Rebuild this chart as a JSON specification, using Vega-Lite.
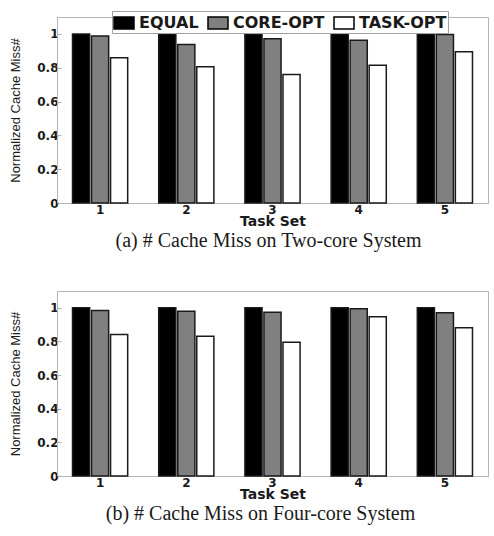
{
  "$schema": "https://vega.github.io/schema/vega-lite/v6.json",
  "padding": {"left": 9, "top": 10, "right": 0, "bottom": 0},
  "background": "white",
  "config": {
    "view": {"stroke": "#b5b5b5", "strokeWidth": 1},
    "axis": {
      "grid": false,
      "domainColor": "#b5b5b5",
      "tickColor": "#b5b5b5",
      "labelFont": "DejaVu Sans",
      "labelFontWeight": "bold",
      "labelFontSize": 12,
      "labelColor": "#1a1a1a",
      "titleColor": "#1a1a1a"
    },
    "legend": {
      "labelFont": "DejaVu Sans",
      "labelFontWeight": "bold",
      "labelFontSize": 16,
      "labelColor": "#1a1a1a",
      "strokeColor": "#a0a0a0",
      "fillColor": "white",
      "padding": 1,
      "columnPadding": 6,
      "labelOffset": 4,
      "symbolType": "M-1,-0.6H1V0.6H-1Z",
      "symbolSize": 400,
      "symbolStrokeColor": "#000000",
      "symbolStrokeWidth": 1.5,
      "symbolOpacity": 1,
      "direction": "horizontal",
      "orient": "none",
      "title": null
    },
    "title": {"font": "Liberation Serif", "fontSize": 20, "fontWeight": "normal", "color": "#1a1a1a"}
  },
  "datasets": {
    "cache": [
      {"system": "Two-core", "set": "1", "policy": "EQUAL", "value": 1.0},
      {"system": "Two-core", "set": "1", "policy": "CORE-OPT", "value": 0.987},
      {"system": "Two-core", "set": "1", "policy": "TASK-OPT", "value": 0.859},
      {"system": "Two-core", "set": "2", "policy": "EQUAL", "value": 1.0},
      {"system": "Two-core", "set": "2", "policy": "CORE-OPT", "value": 0.938},
      {"system": "Two-core", "set": "2", "policy": "TASK-OPT", "value": 0.806},
      {"system": "Two-core", "set": "3", "policy": "EQUAL", "value": 1.0},
      {"system": "Two-core", "set": "3", "policy": "CORE-OPT", "value": 0.972},
      {"system": "Two-core", "set": "3", "policy": "TASK-OPT", "value": 0.760},
      {"system": "Two-core", "set": "4", "policy": "EQUAL", "value": 1.0},
      {"system": "Two-core", "set": "4", "policy": "CORE-OPT", "value": 0.962},
      {"system": "Two-core", "set": "4", "policy": "TASK-OPT", "value": 0.815},
      {"system": "Two-core", "set": "5", "policy": "EQUAL", "value": 1.0},
      {"system": "Two-core", "set": "5", "policy": "CORE-OPT", "value": 0.997},
      {"system": "Two-core", "set": "5", "policy": "TASK-OPT", "value": 0.895},
      {"system": "Four-core", "set": "1", "policy": "EQUAL", "value": 1.0},
      {"system": "Four-core", "set": "1", "policy": "CORE-OPT", "value": 0.984},
      {"system": "Four-core", "set": "1", "policy": "TASK-OPT", "value": 0.841},
      {"system": "Four-core", "set": "2", "policy": "EQUAL", "value": 1.0},
      {"system": "Four-core", "set": "2", "policy": "CORE-OPT", "value": 0.980},
      {"system": "Four-core", "set": "2", "policy": "TASK-OPT", "value": 0.831},
      {"system": "Four-core", "set": "3", "policy": "EQUAL", "value": 1.0},
      {"system": "Four-core", "set": "3", "policy": "CORE-OPT", "value": 0.974},
      {"system": "Four-core", "set": "3", "policy": "TASK-OPT", "value": 0.796},
      {"system": "Four-core", "set": "4", "policy": "EQUAL", "value": 1.0},
      {"system": "Four-core", "set": "4", "policy": "CORE-OPT", "value": 0.994},
      {"system": "Four-core", "set": "4", "policy": "TASK-OPT", "value": 0.947},
      {"system": "Four-core", "set": "5", "policy": "EQUAL", "value": 1.0},
      {"system": "Four-core", "set": "5", "policy": "CORE-OPT", "value": 0.970},
      {"system": "Four-core", "set": "5", "policy": "TASK-OPT", "value": 0.881}
    ]
  },
  "spacing": 38,
  "vconcat": [
    {
      "data": {"name": "cache"},
      "transform": [{"filter": "datum.system == 'Two-core'"}],
      "width": 431,
      "height": 186,
      "title": {"text": "(a) # Cache Miss on Two-core System", "orient": "bottom", "anchor": "middle", "offset": 3, "dx": -4},
      "mark": {"type": "bar", "stroke": "#1a1a1a", "strokeWidth": 1.5},
      "encoding": {
        "x": {
          "field": "set", "type": "nominal",
          "scale": {"paddingInner": 0.36, "paddingOuter": 0.18},
          "axis": {"title": "Task Set", "labelAngle": 0, "ticks": false, "labelPadding": 1, "titlePadding": -1, "titleFont": "DejaVu Sans", "titleFontWeight": "bold", "titleFontSize": 14}
        },
        "xOffset": {"field": "policy", "sort": ["EQUAL", "CORE-OPT", "TASK-OPT"], "scale": {"paddingInner": 0.1, "paddingOuter": 0}},
        "y": {
          "field": "value", "type": "quantitative",
          "scale": {"domain": [0, 1.1], "nice": false},
          "axis": {"values": [0, 0.2, 0.4, 0.6, 0.8, 1], "format": ".1~f", "tickSize": -4, "labelPadding": 3, "title": "Normalized Cache Miss#", "titleFont": "Liberation Sans", "titleFontWeight": "normal", "titleFontSize": 13, "titlePadding": 14}
        },
        "color": {
          "field": "policy", "type": "nominal",
          "sort": ["EQUAL", "CORE-OPT", "TASK-OPT"],
          "scale": {"domain": ["EQUAL", "CORE-OPT", "TASK-OPT"], "range": ["#000000", "#808080", "#ffffff"]},
          "legend": {"legendX": 55, "legendY": -6}
        }
      }
    },
    {
      "data": {"name": "cache"},
      "transform": [{"filter": "datum.system == 'Four-core'"}],
      "width": 431,
      "height": 185,
      "title": {"text": "(b) # Cache Miss on Four-core System", "orient": "bottom", "anchor": "middle", "offset": 3, "dx": -12},
      "mark": {"type": "bar", "stroke": "#1a1a1a", "strokeWidth": 1.5},
      "encoding": {
        "x": {
          "field": "set", "type": "nominal",
          "scale": {"paddingInner": 0.36, "paddingOuter": 0.18},
          "axis": {"title": "Task Set", "labelAngle": 0, "ticks": false, "labelPadding": 1, "titlePadding": -1, "titleFont": "DejaVu Sans", "titleFontWeight": "bold", "titleFontSize": 14}
        },
        "xOffset": {"field": "policy", "sort": ["EQUAL", "CORE-OPT", "TASK-OPT"], "scale": {"paddingInner": 0.1, "paddingOuter": 0}},
        "y": {
          "field": "value", "type": "quantitative",
          "scale": {"domain": [0, 1.1], "nice": false},
          "axis": {"values": [0, 0.2, 0.4, 0.6, 0.8, 1], "format": ".1~f", "tickSize": -4, "labelPadding": 3, "title": "Normalized Cache Miss#", "titleFont": "Liberation Sans", "titleFontWeight": "normal", "titleFontSize": 13, "titlePadding": 14}
        },
        "color": {
          "field": "policy", "type": "nominal",
          "sort": ["EQUAL", "CORE-OPT", "TASK-OPT"],
          "scale": {"domain": ["EQUAL", "CORE-OPT", "TASK-OPT"], "range": ["#000000", "#808080", "#ffffff"]},
          "legend": {"legendX": 53, "legendY": -6}
        }
      }
    }
  ]
}
